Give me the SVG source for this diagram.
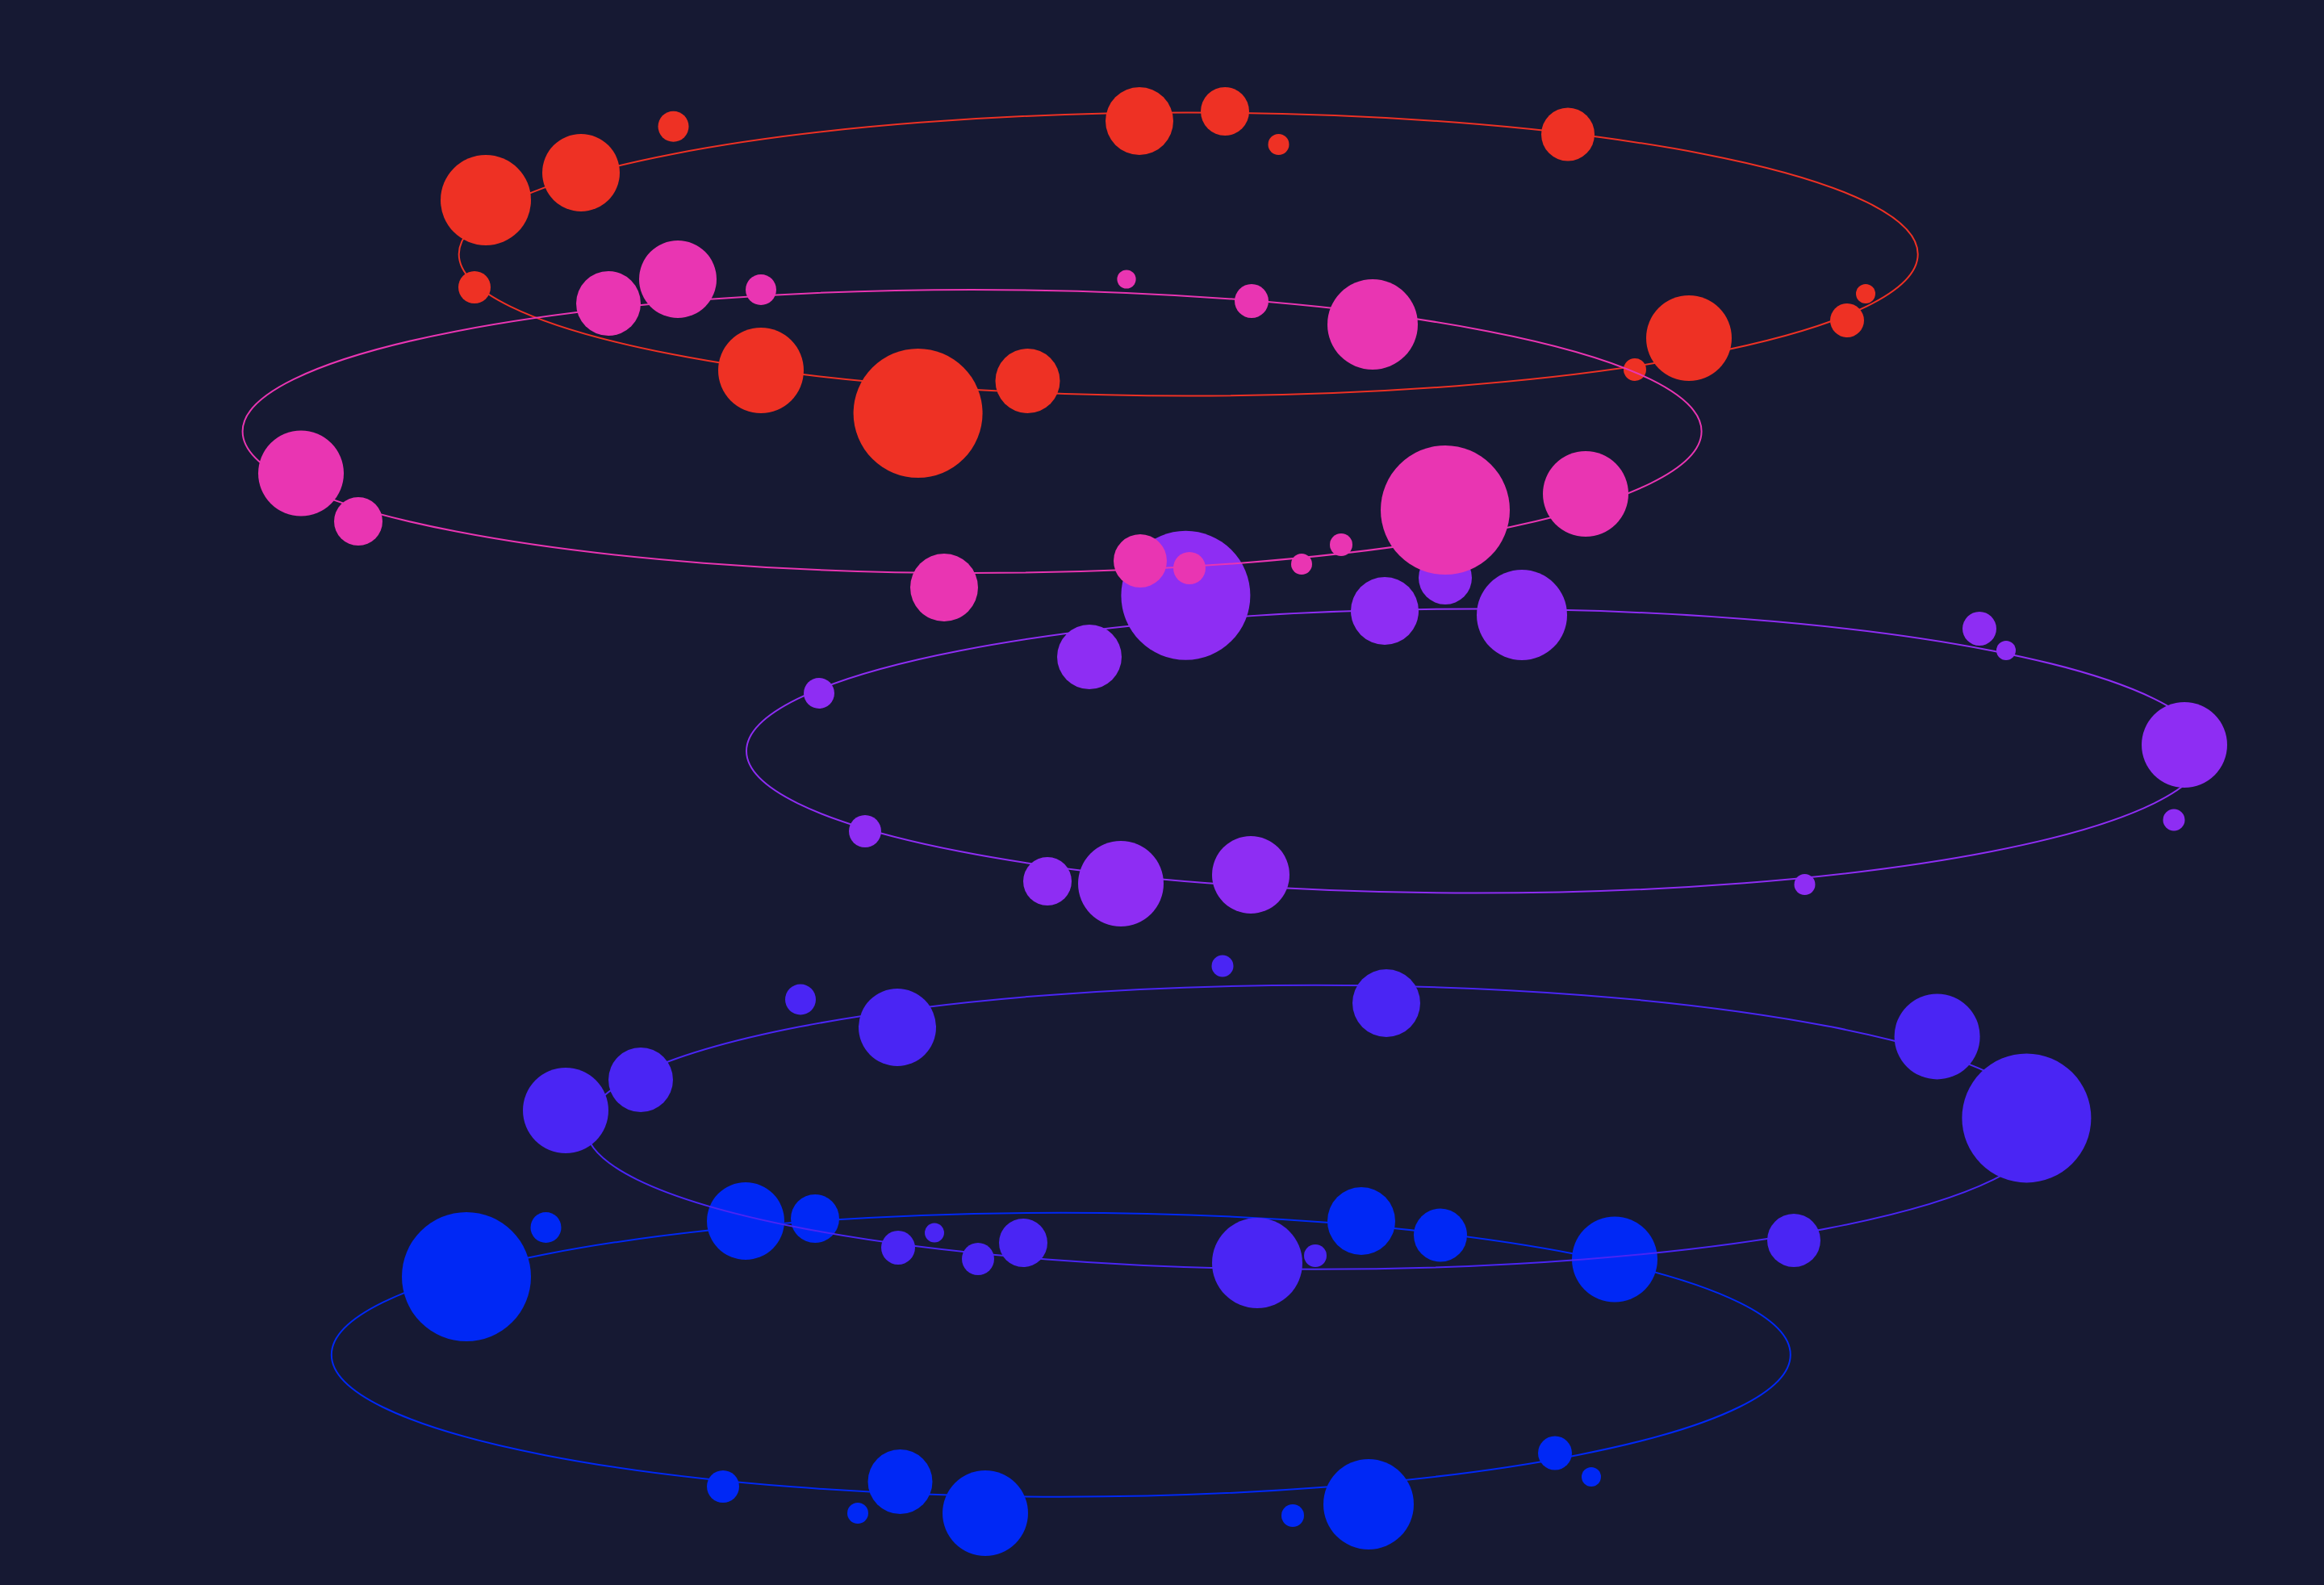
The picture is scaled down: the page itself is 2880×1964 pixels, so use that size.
<svg xmlns="http://www.w3.org/2000/svg" width="2880" height="1964" viewBox="0 0 2880 1964">
<style>
.ring{fill:none;stroke-width:2}
.red{fill:#EE3124}.redl{stroke:#EE3124}
.pink{fill:#E935B2}.pinkl{stroke:#E935B2}
.purple{fill:#8E2DF3}.purplel{stroke:#8E2DF3}
.indigo{fill:#4A25F4}.indigol{stroke:#4A25F4}
.blue{fill:#0028F5}.bluel{stroke:#0028F5}
</style>
<rect x="0" y="0" width="2880" height="1964" fill="#161933"/>
<g id="ring-red">
<ellipse class="ring redl" cx="1472.7" cy="315" rx="904" ry="175.5"/>
<g class="red">
<circle cx="602" cy="248" r="56"/>
<circle cx="720" cy="214" r="48"/>
<circle cx="834.5" cy="156.7" r="19"/>
<circle cx="588" cy="356" r="20"/>
<circle cx="943" cy="459" r="53"/>
<circle cx="1412" cy="150" r="42"/>
<circle cx="1518" cy="138" r="30"/>
<circle cx="1584.5" cy="179" r="13"/>
<circle cx="1137.6" cy="512" r="80"/>
<circle cx="1273.5" cy="472" r="40"/>
<circle cx="1943" cy="166.5" r="33"/>
<circle cx="2312" cy="364" r="12"/>
<circle cx="2289" cy="397" r="21"/>
<circle cx="2093" cy="419" r="53"/>
<circle cx="2026" cy="458" r="14"/>
</g>
</g>
<g id="ring-purple">
<ellipse class="ring purplel" cx="1829" cy="930.6" rx="904" ry="176"/>
<g class="purple">
<circle cx="1469.4" cy="737.8" r="80"/>
<circle cx="1791" cy="716" r="33"/>
<circle cx="1716" cy="757" r="42"/>
<circle cx="1886" cy="762" r="56"/>
<circle cx="1350" cy="814" r="40"/>
<circle cx="1015" cy="859" r="19"/>
<circle cx="2453" cy="779" r="21"/>
<circle cx="2486" cy="806" r="12"/>
<circle cx="2707" cy="923" r="53"/>
<circle cx="2694" cy="1016" r="13.5"/>
<circle cx="2236.5" cy="1096" r="13"/>
<circle cx="1072" cy="1030" r="20"/>
<circle cx="1298" cy="1092" r="30"/>
<circle cx="1389" cy="1095" r="53"/>
<circle cx="1550" cy="1084" r="48"/>
</g>
</g>
<g id="ring-pink">
<ellipse class="ring pinkl" cx="1204.6" cy="534.5" rx="904" ry="175.5"/>
<g class="pink">
<circle cx="754" cy="376" r="40"/>
<circle cx="840" cy="346" r="48"/>
<circle cx="943" cy="359" r="19"/>
<circle cx="373" cy="586.5" r="53"/>
<circle cx="444" cy="646" r="30"/>
<circle cx="1396" cy="346" r="11.6"/>
<circle cx="1551" cy="373" r="21"/>
<circle cx="1701" cy="402" r="56"/>
<circle cx="1170" cy="728" r="42"/>
<circle cx="1413" cy="695" r="33"/>
<circle cx="1474" cy="704" r="20"/>
<circle cx="1613" cy="699" r="13"/>
<circle cx="1662" cy="675" r="14"/>
<circle cx="1791" cy="632" r="80"/>
<circle cx="1965" cy="612" r="53"/>
</g>
</g>
<g id="ring-blue">
<ellipse class="ring bluel" cx="1314.8" cy="1678.7" rx="904" ry="176"/>
<g class="blue">
<circle cx="2001" cy="1560.5" r="53"/>
<circle cx="1927" cy="1800.5" r="21"/>
<circle cx="1972" cy="1830" r="12"/>
<circle cx="578" cy="1582" r="80"/>
<circle cx="676.5" cy="1521" r="19"/>
<circle cx="924" cy="1513" r="48"/>
<circle cx="896" cy="1842" r="20"/>
<circle cx="1010" cy="1510" r="30"/>
<circle cx="1687" cy="1513" r="42"/>
<circle cx="1785" cy="1530.5" r="33"/>
<circle cx="1115.5" cy="1836" r="40"/>
<circle cx="1063" cy="1875" r="13"/>
<circle cx="1221" cy="1875" r="53"/>
<circle cx="1602" cy="1878" r="14"/>
<circle cx="1696" cy="1864" r="56"/>
</g>
</g>
<g id="ring-indigo">
<ellipse class="ring indigol" cx="1630" cy="1396.8" rx="904" ry="176"/>
<g class="indigo">
<circle cx="2400.6" cy="1284.4" r="53"/>
<circle cx="2511.4" cy="1385.4" r="80"/>
<circle cx="2223" cy="1537" r="33"/>
<circle cx="701" cy="1376" r="53"/>
<circle cx="794" cy="1338" r="40"/>
<circle cx="1515" cy="1197" r="13.5"/>
<circle cx="992" cy="1238.5" r="19"/>
<circle cx="1112" cy="1273" r="48"/>
<circle cx="1718" cy="1243" r="42"/>
<circle cx="1113" cy="1546" r="21"/>
<circle cx="1158" cy="1527.5" r="12"/>
<circle cx="1212" cy="1560" r="20"/>
<circle cx="1268" cy="1540" r="30"/>
<circle cx="1558" cy="1565" r="56"/>
<circle cx="1630" cy="1556" r="14"/>
</g>
</g>
</svg>
